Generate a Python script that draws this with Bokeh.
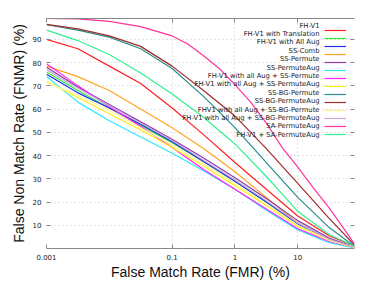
from bokeh.plotting import figure
from bokeh.models import (FixedTicker, LinearAxis, LogAxis, Legend, LegendItem, Label)
from bokeh.embed import file_html
from bokeh.resources import INLINE

# False Match Rate (%) sample points
fmr = [0.001, 0.00316, 0.01, 0.0316, 0.1, 0.316, 1, 3.16, 10, 31.6, 80]
fmr_fine = [0.001, 0.00316, 0.01, 0.0316, 0.1, 0.178, 0.316, 0.562, 1, 1.78, 3.16,
            5.62, 10, 17.8, 31.6, 80]

fh_v1                = [90, 86, 78.5, 71, 60.5, 49, 37, 25.5, 14, 5.5, 1]
fh_v1_translation    = [76, 68, 60.5, 53, 45.5, 37.5, 29, 20, 11, 4, 0.5]
fh_v1_all_aug        = [75, 67, 60.5, 53.5, 46, 37.5, 29, 20, 10.5, 4, 0.5]
ss_comb              = [78.5, 74, 68, 60, 52, 43, 33, 22, 11, 4, 0.5]
ss_permute           = [78, 69.5, 62, 54.5, 47, 39, 30.5, 21.5, 12, 4.5, 0.5]
ss_permuteaug        = [74, 63, 55, 48, 41, 33.5, 25.5, 16.5, 8, 2.5, 0.3]
aug_ss_permute       = [79.5, 70, 61, 52.5, 43.5, 34, 25.5, 17, 8.5, 3, 0.5]
aug_ss_permuteaug    = [72, 65, 58, 51, 43.5, 35.5, 27, 18.5, 9.5, 3.5, 0.5]
ss_bg_permute        = [96.3, 94, 91, 86, 77.5, 65.5, 52, 37, 22, 9, 1]
ss_bg_permuteaug     = [96.5, 94.5, 91.5, 87, 78.5, 68, 57, 43, 28, 13, 1.5]
aug_ss_bg_permute    = [71.5, 66, 59.5, 52, 44.5, 36.5, 28, 19, 10, 3.5, 0.5]
aug_ss_bg_permuteaug = [77, 69, 61.5, 54, 46.5, 38, 29.5, 20.5, 11, 4, 0.5]
sa_permuteaug        = [99, 98.8, 97.8, 95.5, 91.5, 88, 83, 77.5, 70.5, 63, 54,
                        43.5, 35, 26, 17.5, 2]
fh_v1_sa_permuteaug  = [94, 89.5, 83.5, 75.5, 66.5, 56.5, 45, 31, 16, 6, 1]

labels = ["FH-V1", "FH-V1 with Translation", "FH-V1 with All Aug", "SS-Comb",
          "SS-Permute", "SS-PermuteAug", "FH-V1 with all Aug + SS-Permute",
          "FH-V1 with all Aug + SS-PermuteAug", "SS-BG-Permute", "SS-BG-PermuteAug",
          "FHV1 with all Aug + SS-BG-Permute", "FH-V1 with all Aug + SS-BG-PermuteAug",
          "SA-PermuteAug", "FH-V1 + SA-PermuteAug"]
series = [fh_v1, fh_v1_translation, fh_v1_all_aug, ss_comb, ss_permute, ss_permuteaug,
          aug_ss_permute, aug_ss_permuteaug, ss_bg_permute, ss_bg_permuteaug,
          aug_ss_bg_permute, aug_ss_bg_permuteaug, sa_permuteaug, fh_v1_sa_permuteaug]
colors = ["#ff2020", "#30e830", "#2030f0", "#ffa520", "#8e3aa8", "#30e8ff", "#ff20ff",
          "#ffee10", "#2a8c8c", "#a02c2c", "#fff590", "#c8a8d8", "#ff3399", "#30f090"]

x_ticks = [0.001, 0.1, 1, 10]
y_ticks = [10, 20, 30, 40, 50, 60, 70, 80, 90]

p = figure(width=373, height=282, x_axis_type="log", x_range=(0.001, 80), y_range=(0, 99),
           output_backend="svg", toolbar_location=None,
           min_border_left=46, min_border_right=19, min_border_top=18, min_border_bottom=34)
p.outline_line_color = None
p.background_fill_color = "white"

renderers = []
for ys, c in zip(series, colors):
    xs = fmr_fine if len(ys) == len(fmr_fine) else fmr
    r = p.line(xs, ys, line_color=c, line_width=1.2)
    renderers.append(r)

tick_font = "DejaVu Sans"
xa = p.xaxis[0]
xa.ticker = FixedTicker(ticks=x_ticks)
xa.major_label_overrides = {0.001: "0.001", 0.1: "0.1", 1: "1", 10: "10"}
xa.axis_label = "False Match Rate (FMR) (%)"
ya = p.yaxis[0]
ya.ticker = FixedTicker(ticks=y_ticks)
ya.axis_label = "False Non Match Rate (FNMR) (%)"
for ax in (xa, ya):
    ax.major_tick_in = 4
    ax.major_tick_out = 0
    ax.minor_tick_line_color = None
    ax.major_tick_line_color = "#888888"
    ax.major_label_text_font = tick_font
    ax.major_label_text_font_size = "7px"
    ax.major_label_text_color = "#222222"
    ax.axis_label_text_font = "Liberation Sans"
    ax.axis_label_text_font_size = "14px"
    ax.axis_label_text_font_style = "normal"
    ax.axis_label_text_color = "#111111"
xa.axis_line_color = "#888888"
ya.axis_line_color = None
xa.major_label_standoff = 5
xa.axis_label_standoff = 1
ya.major_label_standoff = 5
ya.axis_label_standoff = 3

top = LogAxis(ticker=FixedTicker(ticks=x_ticks), major_label_text_font_size="1px",
              major_label_text_color=None,
              major_label_standoff=0, major_tick_in=4, major_tick_out=0,
              minor_tick_line_color=None, axis_line_color="#888888",
              major_tick_line_color="#888888")
p.add_layout(top, "above")
right = LinearAxis(ticker=FixedTicker(ticks=y_ticks), major_label_text_font_size="1px",
                   major_label_text_color=None,
                   major_label_standoff=0, major_tick_in=4, major_tick_out=0,
                   minor_tick_line_color=None, axis_line_color=None,
                   major_tick_line_color="#888888")
p.add_layout(right, "right")

for g in (p.xgrid[0], p.ygrid[0]):
    g.grid_line_color = "#c8c8c8"
    g.grid_line_dash = "1 3"
    g.grid_line_width = 1
p.xgrid[0].ticker = FixedTicker(ticks=x_ticks)
p.ygrid[0].ticker = FixedTicker(ticks=y_ticks)

# legend: sample lines on the right, labels right-aligned to their left
row_h = 8.4
frame_h = 230
first_row = 7
legend = Legend(items=[LegendItem(label="-", renderers=[r]) for r in renderers],
                location=(278, frame_h - first_row + row_h / 2 - row_h * len(renderers)),
                glyph_width=22, glyph_height=8, label_height=8, label_width=1,
                label_standoff=0, spacing=0, padding=0, margin=0,
                label_text_font_size="6px", label_text_color=None, border_line_color=None,
                background_fill_alpha=0)
p.add_layout(legend, "center")
for i, lab in enumerate(labels):
    p.add_layout(Label(x=273, y=frame_h - first_row - row_h * i, x_units="screen", y_units="screen",
                       text=lab, text_align="right", text_baseline="middle",
                       text_font=tick_font, text_font_size="6.8px", text_color="#222222"))

open("out.html", "w").write(file_html(p, INLINE))
